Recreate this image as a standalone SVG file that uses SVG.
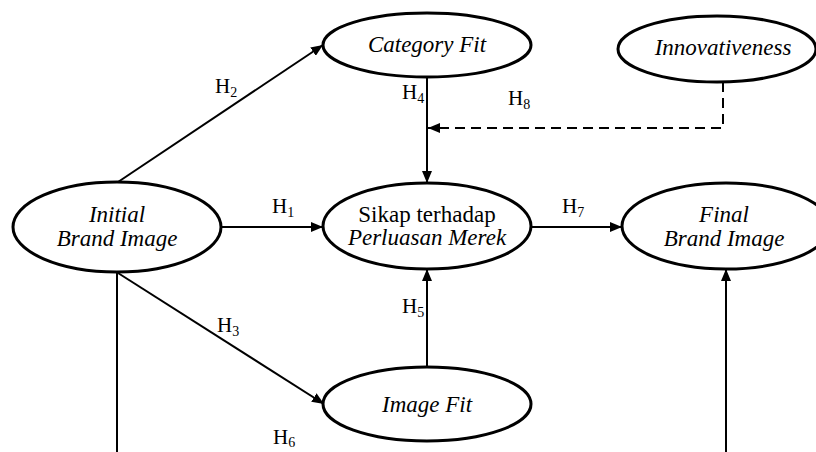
<svg xmlns="http://www.w3.org/2000/svg" width="816" height="452" viewBox="0 0 816 452">
<style>
.node ellipse{fill:#fff;stroke:#000;stroke-width:3}
.t{font-family:"Liberation Serif","Times New Roman",serif;font-size:23px;fill:#000;text-anchor:middle}
.i{font-style:italic}
.h{font-family:"Liberation Serif","Times New Roman",serif;font-size:21px;fill:#000}
.s{font-size:14px}
.c{stroke:#000;stroke-width:2;fill:none}
.d{stroke-dasharray:10,6}
</style>
<defs>
<marker id="ah" markerUnits="userSpaceOnUse" markerWidth="12" markerHeight="10" refX="12" refY="5" orient="auto">
<path d="M0,0 L12,5 L0,10 z" fill="#000"/>
</marker>
</defs>
<rect width="816" height="452" fill="#fff"/>
<g id="connectors">
<line class="c" x1="118" y1="182" x2="323" y2="45" marker-end="url(#ah)"/>
<line class="c" x1="221" y1="227" x2="323" y2="227" marker-end="url(#ah)"/>
<line class="c" x1="118" y1="273" x2="324" y2="404" marker-end="url(#ah)"/>
<line class="c" x1="117" y1="272" x2="117" y2="452"/>
<line class="c" x1="427" y1="77" x2="427" y2="183" marker-end="url(#ah)"/>
<polyline class="c d" points="723,82 723,128 428,128" marker-end="url(#ah)"/>
<line class="c" x1="427" y1="367" x2="427" y2="269" marker-end="url(#ah)"/>
<line class="c" x1="531" y1="227" x2="622" y2="227" marker-end="url(#ah)"/>
<line class="c" x1="726" y1="452" x2="726" y2="269" marker-end="url(#ah)"/>
</g>
<g id="labels">
<text class="h" x="215" y="93">H<tspan class="s" dy="4">2</tspan></text>
<text class="h" x="402" y="99">H<tspan class="s" dy="4">4</tspan></text>
<text class="h" x="508" y="105">H<tspan class="s" dy="4">8</tspan></text>
<text class="h" x="272" y="213">H<tspan class="s" dy="4">1</tspan></text>
<text class="h" x="562" y="213">H<tspan class="s" dy="4">7</tspan></text>
<text class="h" x="217" y="332">H<tspan class="s" dy="4">3</tspan></text>
<text class="h" x="402" y="313">H<tspan class="s" dy="4">5</tspan></text>
<text class="h" x="273" y="444">H<tspan class="s" dy="3">6</tspan></text>
</g>
<g id="initial" class="node">
<ellipse cx="117" cy="227" rx="104" ry="45"/>
<text class="t i" x="117" y="222">Initial</text>
<text class="t i" x="117" y="246">Brand Image</text>
</g>
<g id="category" class="node">
<ellipse cx="427" cy="45" rx="104" ry="32"/>
<text class="t i" x="427" y="52">Category Fit</text>
</g>
<g id="innov" class="node">
<ellipse cx="717" cy="49" rx="99" ry="33"/>
<text class="t i" x="723" y="55">Innovativeness</text>
</g>
<g id="sikap" class="node">
<ellipse cx="427" cy="226" rx="104" ry="43"/>
<text class="t" x="427" y="222">Sikap terhadap</text>
<text class="t i" x="427" y="245">Perluasan Merek</text>
</g>
<g id="final" class="node">
<ellipse cx="726" cy="226" rx="104" ry="43"/>
<text class="t i" x="724" y="222">Final</text>
<text class="t i" x="724" y="246">Brand Image</text>
</g>
<g id="imagefit" class="node">
<ellipse cx="427" cy="404" rx="104" ry="37"/>
<text class="t i" x="427" y="412">Image Fit</text>
</g>
</svg>
